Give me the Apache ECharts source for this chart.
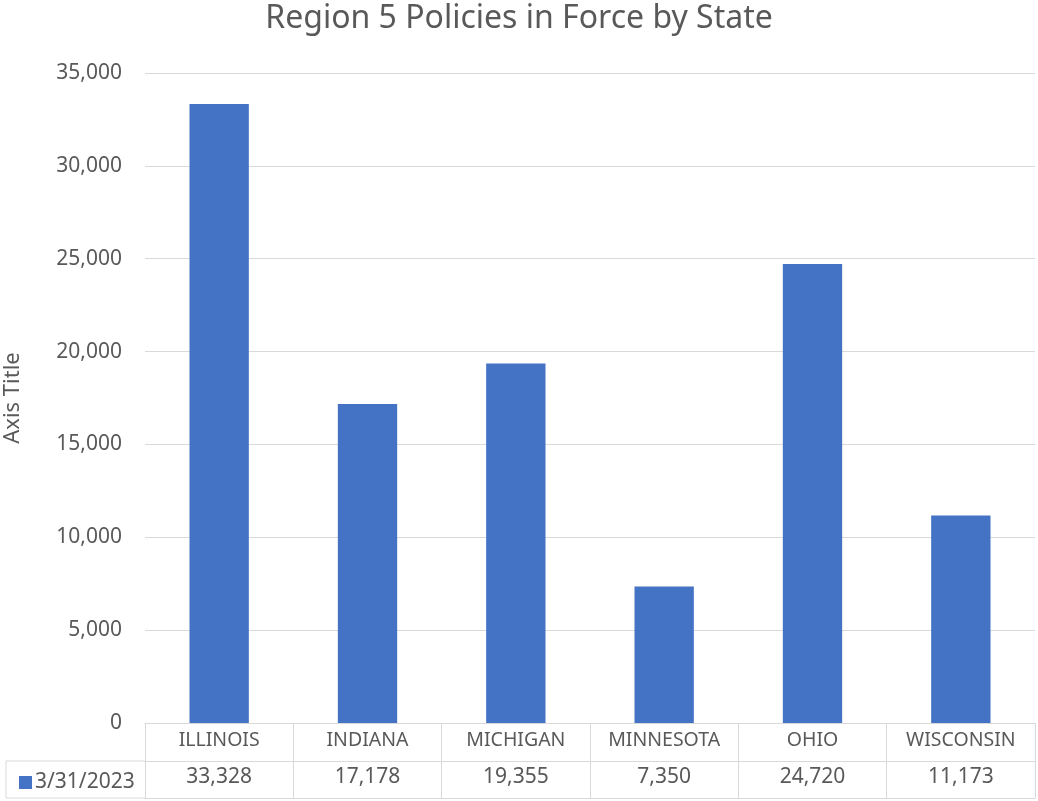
<!DOCTYPE html>
<html>
<head>
<meta charset="utf-8">
<script src="https://cdn.jsdelivr.net/npm/echarts@6/dist/echarts.min.js"></script>
<style>
  html, body { margin: 0; padding: 0; background: #fff; }
  #chart { width: 1038px; height: 801px; }
</style>
</head>
<body>
<div id="chart"></div>
<script>
var states = ['ILLINOIS', 'INDIANA', 'MICHIGAN', 'MINNESOTA', 'OHIO', 'WISCONSIN'];
var policies = [33328, 17178, 19355, 7350, 24720, 11173];
var seriesName = '3/31/2023';
var yTicks = { min: 0, max: 35000, interval: 5000 };

var font = '"Noto Sans", "Open Sans", sans-serif';
var gray = '#595959';
var lineGray = '#d9d9d9';

function fmt(v) {
  return String(v).replace(/\B(?=(\d{3})+(?!\d))/g, ',');
}

var chart = echarts.init(document.getElementById('chart'));

var option = {
  animation: false,
  title: {
    text: 'Region 5 Policies in Force by State',
    left: 'center',
    top: -2,
    textStyle: { fontFamily: font, fontSize: 32, fontWeight: 'normal', color: gray }
  },
  legend: {
    left: 14,
    top: 767,
    itemWidth: 13,
    itemHeight: 13,
    itemGap: 4,
    icon: 'rect',
    data: [seriesName],
    textStyle: { fontFamily: font, fontSize: 21, color: gray, padding: [0, 0, 0, -2] }
  },
  grid: { left: 145, right: 3, top: 73, bottom: 78, containLabel: false, outerBoundsMode: 'none' },
  xAxis: [
    {
      type: 'category',
      data: states,
      position: 'bottom',
      axisLine: { show: true, lineStyle: { color: lineGray, width: 1 } },
      axisTick: { show: true, length: 75, lineStyle: { color: lineGray, width: 1 } },
      axisLabel: { margin: 7, fontFamily: font, fontSize: 19.5, color: gray, interval: 0 }
    },
    {
      type: 'category',
      data: policies.map(fmt),
      position: 'bottom',
      offset: 38,
      axisLine: { show: true, lineStyle: { color: lineGray, width: 1 } },
      axisTick: { show: false },
      axisLabel: { margin: 6, fontFamily: font, fontSize: 21, color: gray, interval: 0 }
    },
    {
      type: 'category',
      data: states,
      position: 'bottom',
      offset: 75,
      axisLine: { show: true, lineStyle: { color: lineGray, width: 1 } },
      axisTick: { show: false },
      axisLabel: { show: false }
    }
  ],
  yAxis: {
    type: 'value',
    min: yTicks.min,
    max: yTicks.max,
    interval: yTicks.interval,
    name: 'Axis Title',
    nameLocation: 'middle',
    nameGap: 121,
    nameTextStyle: { fontFamily: font, fontSize: 22, color: gray },
    axisLine: { show: false },
    axisTick: { show: false },
    axisLabel: { margin: 23, fontFamily: font, fontSize: 21, color: gray, formatter: fmt },
    splitLine: { lineStyle: { color: lineGray, width: 1 } }
  },
  graphic: [
    { type: 'line', shape: { x1: 6, y1: 761, x2: 145, y2: 761 }, style: { stroke: lineGray, lineWidth: 1 } },
    { type: 'line', shape: { x1: 6, y1: 798, x2: 145, y2: 798 }, style: { stroke: lineGray, lineWidth: 1 } },
    { type: 'line', shape: { x1: 6, y1: 761, x2: 6, y2: 798 }, style: { stroke: lineGray, lineWidth: 1 } }
  ],
  series: [
    {
      name: seriesName,
      type: 'bar',
      xAxisIndex: 0,
      data: policies,
      barWidth: '40%',
      itemStyle: { color: '#4472C4' }
    }
  ]
};

chart.setOption(option);
</script>
</body>
</html>
